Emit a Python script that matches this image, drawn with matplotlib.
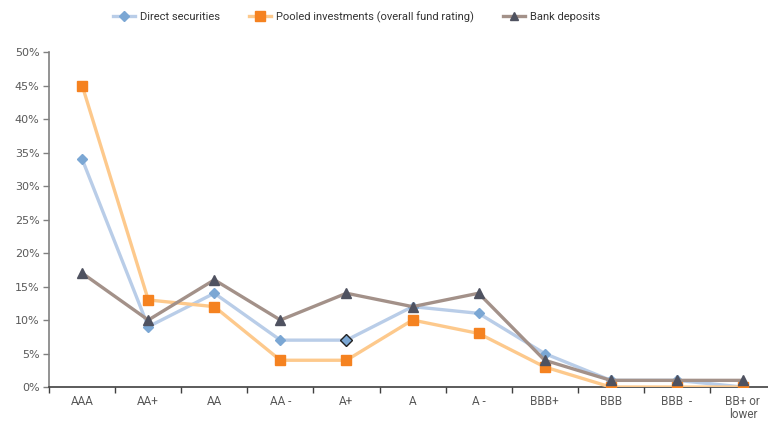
import matplotlib
matplotlib.use('Agg')
import matplotlib.pyplot as plt
import matplotlib.ticker as ticker
from matplotlib.lines import Line2D

plt.rcParams['font.family'] = ['Roboto', 'DejaVu Sans']

categories = ['AAA', 'AA+', 'AA', 'AA -', 'A+', 'A', 'A -', 'BBB+', 'BBB', 'BBB  -', 'BB+ or\nlower']
direct = [34, 9, 14, 7, 7, 12, 11, 5, 1, 1, 0]
pooled = [45, 13, 12, 4, 4, 10, 8, 3, 0, 0, 0]
bank = [17, 10, 16, 10, 14, 12, 14, 4, 1, 1, 1]

x = list(range(len(categories)))
text_color = '#595959'

fig = plt.figure(figsize=(7.68, 4.23), dpi=100)
ax = fig.add_axes([0.064, 0.085, 0.936, 0.792])

ax.plot(x, direct, color='#b9cde8', linewidth=2.4, marker='D', markersize=5,
        markerfacecolor='#7ba7d4', markeredgecolor='#7ba7d4', zorder=3)
# highlighted point
ax.plot(x[4], direct[4], marker='D', markersize=6, markerfacecolor='#7ba7d4',
        markeredgecolor='#222222', markeredgewidth=1, linestyle='none', zorder=4)
ax.plot(x, pooled, color='#fdc98c', linewidth=2.4, marker='s', markersize=7,
        markerfacecolor='#f58220', markeredgecolor='#f58220', zorder=3)
ax.plot(x, bank, color='#a39189', linewidth=2.4, marker='^', markersize=7,
        markerfacecolor='#4f5260', markeredgecolor='#4f5260', zorder=3)

ax.yaxis.set_major_locator(ticker.MultipleLocator(5))
ax.yaxis.set_major_formatter(ticker.FuncFormatter(lambda v, p: f'{v:.0f}%'))
ax.set_xticks(x)
ax.set_xticklabels(categories, linespacing=1.0)
ax.set_xticks([i - 0.5 for i in range(len(categories) + 1)], minor=True)
ax.set_xlim(-0.5, 10.38)
ax.set_ylim(0, 50)
ax.tick_params(axis='x', which='major', length=0, pad=6, labelsize=8.5, labelcolor=text_color)
ax.tick_params(axis='x', which='minor', length=4, width=1, color='#404040', direction='out')
ax.tick_params(axis='y', length=4, width=1, color='#808080', labelsize=8,
               labelcolor=text_color, pad=3)
for t in ax.get_yticklabels():
    t.set_family('DejaVu Sans')

for s in ['top', 'right']:
    ax.spines[s].set_visible(False)
ax.spines['left'].set_color('#808080')
ax.spines['left'].set_linewidth(1.2)
ax.spines['bottom'].set_color('#404040')
ax.spines['bottom'].set_linewidth(1.2)

handles = [
    Line2D([], [], color='#b9cde8', linewidth=2.4, marker='D', markersize=5,
           markerfacecolor='#7ba7d4', markeredgecolor='#7ba7d4'),
    Line2D([], [], color='#fdc98c', linewidth=2.4, marker='s', markersize=7,
           markerfacecolor='#f58220', markeredgecolor='#f58220'),
    Line2D([], [], color='#a39189', linewidth=2.4, marker='^', markersize=6,
           markerfacecolor='#4f5260', markeredgecolor='#4f5260'),
]
labels = ['Direct securities', 'Pooled investments (overall fund rating)', 'Bank deposits']
leg = fig.legend(handles, labels, loc='center', bbox_to_anchor=(0.464, 0.96), ncol=3,
                 frameon=False, fontsize=8, handlelength=2.0, columnspacing=2.6,
                 handletextpad=0.45)
for t in leg.get_texts():
    t.set_color('#333333')

fig.savefig('out.png', dpi=100)
